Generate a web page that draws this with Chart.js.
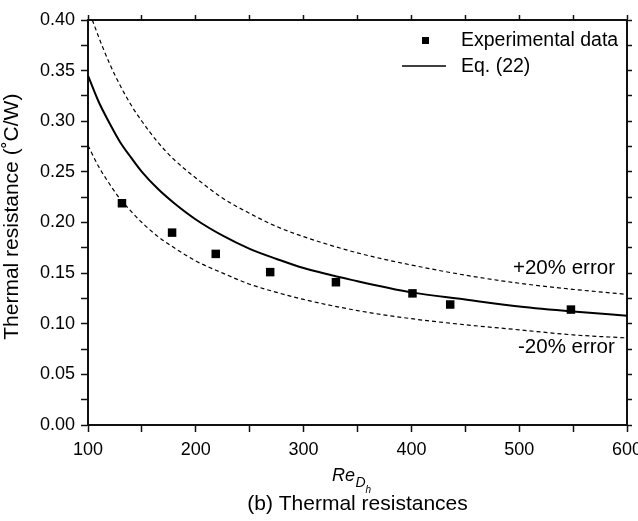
<!DOCTYPE html>
<html>
<head>
<meta charset="utf-8">
<script src="https://cdn.jsdelivr.net/npm/chart.js@4"></script>
<style>
  body { margin: 0; background: #fff; }
  #wrap { width: 638px; height: 521px; }
</style>
</head>
<body>
<div id="wrap"><canvas id="resChart" width="638" height="521"></canvas></div>
<script>
// values
const reCurve = [100, 110, 120, 130, 140, 150, 165, 180, 200, 225, 250, 275, 300, 350, 400, 450, 500, 550, 600];
const eq22 = [0.345, 0.319, 0.298, 0.279, 0.264, 0.250, 0.233, 0.219, 0.203, 0.187, 0.174, 0.164, 0.155, 0.142, 0.131, 0.124, 0.117, 0.112, 0.108];
const lower20 = [0.276, 0.255, 0.238, 0.223, 0.211, 0.200, 0.186, 0.175, 0.162, 0.150, 0.139, 0.131, 0.124, 0.113, 0.105, 0.099, 0.094, 0.089, 0.086];
const reUpper = [104, 110, 120, 130, 140, 150, 165, 180, 200, 225, 250, 275, 300, 350, 400, 450, 500, 550, 600];
const upper20 = [0.400, 0.383, 0.357, 0.335, 0.316, 0.300, 0.279, 0.262, 0.244, 0.224, 0.209, 0.196, 0.186, 0.170, 0.158, 0.148, 0.140, 0.134, 0.129];
const expRe = [131.5, 178, 218.5, 269, 330, 401, 436, 548];
const expR = [0.219, 0.190, 0.169, 0.151, 0.141, 0.130, 0.119, 0.114];

const FONT = "'Liberation Sans', Arial, sans-serif";
Chart.defaults.font.family = FONT;
Chart.defaults.color = "#111";

function pts(xs, ys) {
    return xs.map((x, i) => ({ x: x, y: ys[i] }));
}

// legend, error labels and the subscripted x title
const annotations = {
    id: "annotations",
    afterDraw(chart) {
        const ctx = chart.ctx;
        const a = chart.chartArea;
        ctx.save();
        ctx.fillStyle = "#000";
        ctx.strokeStyle = "#000";
        ctx.font = "19.5px " + FONT;
        ctx.textBaseline = "middle";
        ctx.textAlign = "left";

        ctx.fillRect(a.left + 334, a.top + 17, 7, 7);
        ctx.fillText("Experimental data", a.left + 373, a.top + 21);
        ctx.lineWidth = 1.5;
        ctx.beginPath();
        ctx.moveTo(a.left + 314, a.top + 46);
        ctx.lineTo(a.left + 358, a.top + 46);
        ctx.stroke();
        ctx.fillText("Eq. (22)", a.left + 373, a.top + 47);

        ctx.font = "20.5px " + FONT;
        ctx.fillText("+20% error", a.left + 425, a.top + 248);
        ctx.fillText("-20% error", a.left + 430, a.top + 327);

        // Re_{D_h}
        ctx.textBaseline = "alphabetic";
        const cx = 332;
        const by = a.bottom + 56;
        ctx.font = "italic 18px " + FONT;
        ctx.fillText("Re", cx, by);
        let w = ctx.measureText("Re").width;
        ctx.font = "italic 14px " + FONT;
        ctx.fillText("D", cx + w + 0.5, by + 6);
        w += ctx.measureText("D").width + 0.5;
        ctx.font = "italic 10px " + FONT;
        ctx.fillText("h", cx + w, by + 12);
        ctx.restore();
    }
};

const axisColor = "#111";
const noPad = (s) => { s.paddingLeft = 0; s.paddingRight = 0; s.paddingTop = 0; s.paddingBottom = 0; };

new Chart(document.getElementById("resChart").getContext("2d"), {
    type: "scatter",
    data: {
        datasets: [
            {
                label: "Experimental data",
                data: pts(expRe, expR),
                pointStyle: "rect",
                pointRadius: 6,
                pointHoverRadius: 6,
                backgroundColor: "#000",
                borderColor: "#000",
                borderWidth: 0
            },
            {
                label: "Eq. (22)",
                data: pts(reCurve, eq22),
                showLine: true,
                pointRadius: 0,
                borderColor: "#000",
                borderWidth: 2,
                cubicInterpolationMode: "monotone"
            },
            {
                label: "+20% error",
                data: pts(reUpper, upper20),
                showLine: true,
                pointRadius: 0,
                borderColor: "#000",
                borderWidth: 1.2,
                borderDash: [4, 3],
                cubicInterpolationMode: "monotone"
            },
            {
                label: "-20% error",
                data: pts(reCurve, lower20),
                showLine: true,
                pointRadius: 0,
                borderColor: "#000",
                borderWidth: 1.2,
                borderDash: [4, 3],
                cubicInterpolationMode: "monotone"
            }
        ]
    },
    options: {
        responsive: false,
        animation: false,
        layout: { padding: 0 },
        plugins: {
            legend: { display: false },
            tooltip: { enabled: false },
            title: {
                display: true,
                position: "bottom",
                fullSize: false,
                text: "(b) Thermal resistances",
                color: "#000",
                font: { size: 21, weight: "normal" },
                padding: { top: 4, bottom: 4.4 }
            }
        },
        scales: {
            x: {
                type: "linear",
                position: "bottom",
                min: 100,
                max: 600,
                afterFit: (s) => { s.height = 62.4; noPad(s); },
                ticks: {
                    stepSize: 50,
                    autoSkip: false,
                    maxRotation: 0,
                    padding: 7,
                    color: "#000",
                    font: { size: 18 },
                    callback: (v) => (v % 100 === 0 ? String(v) : "")
                },
                grid: { drawOnChartArea: false, tickLength: 7, tickColor: axisColor, tickWidth: 1.5 },
                border: { color: axisColor, width: 2 }
            },
            x2: {
                type: "linear",
                position: "top",
                min: 100,
                max: 600,
                afterFit: (s) => { s.height = 20; noPad(s); },
                ticks: { stepSize: 50, display: false },
                grid: { drawOnChartArea: false, tickLength: 5, tickColor: axisColor, tickWidth: 1.5 },
                border: { color: axisColor, width: 2 }
            },
            y: {
                type: "linear",
                position: "left",
                min: 0,
                max: 0.4,
                afterFit: (s) => { s.width = 88; noPad(s); },
                ticks: {
                    stepSize: 0.025,
                    autoSkip: false,
                    padding: 6,
                    color: "#000",
                    font: { size: 18 },
                    callback: (v) => (Math.round(v * 1000) % 50 === 0 ? v.toFixed(2) : "")
                },
                title: {
                    display: true,
                    text: "  Thermal resistance (˚C/W)",
                    color: "#000",
                    font: { size: 21 },
                    padding: { top: 0, bottom: 0 }
                },
                grid: { drawOnChartArea: false, tickLength: 7, tickColor: axisColor, tickWidth: 1.5 },
                border: { color: axisColor, width: 2 }
            },
            y2: {
                type: "linear",
                position: "right",
                min: 0,
                max: 0.4,
                afterFit: (s) => { s.width = 11; noPad(s); },
                ticks: { stepSize: 0.025, display: false },
                grid: { drawOnChartArea: false, tickLength: 5, tickColor: axisColor, tickWidth: 1.5 },
                border: { color: axisColor, width: 2 }
            }
        }
    },
    plugins: [annotations]
});
</script>
</body>
</html>
